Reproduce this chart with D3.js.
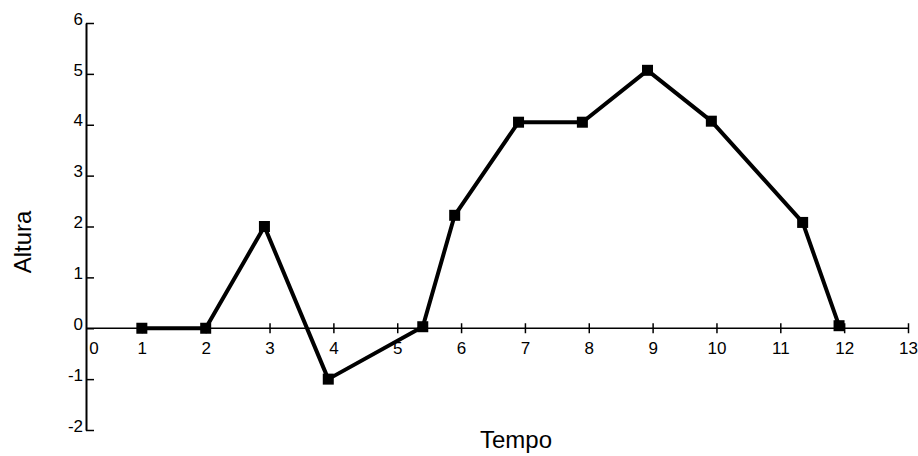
<!DOCTYPE html>
<html>
<head>
<meta charset="utf-8">
<script src="https://cdn.jsdelivr.net/npm/d3@7"></script>
<style>
  body { margin: 0; background: #fff; }
  text { font-family: "Liberation Sans", Arial, sans-serif; fill: #000; }
</style>
</head>
<body>
<svg id="chart" width="918" height="456"></svg>
<script>
            //Width and height
            var w = 918;
            var h = 456;

            // data (tempo, altura)
            var tempo  = [1, 2, 2.92, 3.92, 5.4, 5.9, 6.9, 7.9, 8.92, 9.92, 11.35, 11.92];
            var altura = [0, 0, 2, -1, 0.03, 2.22, 4.05, 4.05, 5.07, 4.07, 2.08, 0.05];
            var xTicks = [1, 2, 3, 4, 5, 6, 7, 8, 9, 10, 11, 12, 13];
            var yTicks = [-2, -1, 0, 1, 2, 3, 4, 5, 6];

            var svg = d3.select("#chart");

            var x = d3.scaleLinear().domain([0, 13]).range([78, 908]);
            var y = d3.scaleLinear().domain([-2, 6]).range([430, 23]);
            var axisX = 86;

            //y axis, ticks pointing inward
            var yAxis = svg.append("g")
               .attr("transform", "translate(" + axisX + ",0)")
               .call(d3.axisRight(y).tickValues(yTicks).tickSize(8).tickSizeOuter(0).tickFormat(""));
            yAxis.select(".domain").attr("stroke-width", 2);
            yAxis.selectAll(".tick line").attr("stroke-width", 1.5);

            svg.selectAll("text.ylab")
               .data(yTicks)
               .enter()
               .append("text")
               .attr("class", "ylab")
               .attr("x", axisX - 3)
               .attr("y", function(d) { return y(d); })
               .attr("text-anchor", "end")
               .attr("dy", "0.1em")
               .attr("font-size", "17px")
               .text(function(d) { return d; });

            //x axis along y = 0
            var xAxis = svg.append("g")
               .attr("transform", "translate(0," + y(0) + ")")
               .call(d3.axisBottom(x).tickValues(xTicks).tickSize(0).tickSizeOuter(0).tickPadding(14));
            xAxis.select(".domain").attr("d", "M" + axisX + ",0H" + x(13)).attr("stroke-width", 1.5);
            xAxis.selectAll(".tick line").attr("y1", -5).attr("y2", 5).attr("stroke-width", 1.5);
            xAxis.selectAll(".tick text").attr("font-size", "17px").attr("font-family", null);

            svg.append("text")
               .attr("x", axisX + 8)
               .attr("y", y(0) + 14)
               .attr("dy", "0.71em")
               .attr("text-anchor", "middle")
               .attr("font-size", "17px")
               .text("0");

            //line and square markers
            var pts = tempo.map(function(d, i) { return [d, altura[i]]; });

            svg.append("path")
               .datum(pts)
               .attr("fill", "none")
               .attr("stroke", "#000")
               .attr("stroke-width", 4)
               .attr("stroke-linejoin", "round")
               .attr("d", d3.line()
                   .x(function(d) { return x(d[0]); })
                   .y(function(d) { return y(d[1]); }));

            svg.selectAll("rect.pt")
               .data(pts)
               .enter()
               .append("rect")
               .attr("class", "pt")
               .attr("x", function(d) { return x(d[0]) - 5.5; })
               .attr("y", function(d) { return y(d[1]) - 5.5; })
               .attr("width", 11)
               .attr("height", 11)
               .attr("fill", "#000");

            //axis titles
            svg.append("text")
               .attr("text-anchor", "middle")
               .attr("x", 516)
               .attr("y", 448)
               .attr("font-size", "24px")
               .text("Tempo");

            svg.append("text")
               .attr("text-anchor", "middle")
               .attr("transform", "translate(31,242) rotate(-90)")
               .attr("font-size", "24px")
               .text("Altura");
</script>
</body>
</html>
